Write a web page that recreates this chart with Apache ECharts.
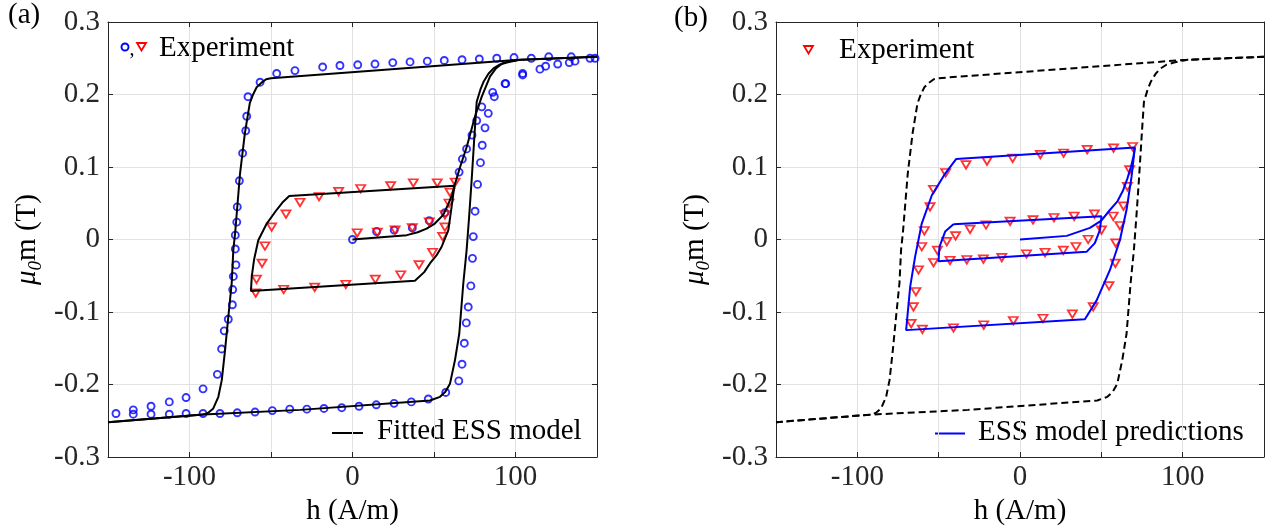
<!DOCTYPE html>
<html><head><meta charset="utf-8">
<script src="https://cdn.jsdelivr.net/npm/echarts@6/dist/echarts.min.js"></script>
<style>html,body{margin:0;padding:0;background:#fff}#c{width:1273px;height:531px}</style>
</head><body><div id="c"></div>
<script>
// ---------- tick labels ----------
const xLabelValues = [-100, 0, 100];
const yTickValues = [-0.3, -0.2, -0.1, 0, 0.1, 0.2, 0.3];

// ---------- panel (a) experiment: blue circles (major loop) ----------
const aExpCircles = [
  [0,0],[14.8,0.011],[25.6,0.013],[36.7,0.016],[47.1,0.026],[56.7,0.037],
  [65.4,0.093],[67.4,0.111],[70.0,0.125],[73.3,0.144],[76.2,0.164],[79.3,0.183],
  [86.0,0.203],[93.6,0.215],[104.4,0.229],[118.5,0.239],[136.5,0.246],[148.8,0.250],
  [134.2,0.252],[120.4,0.252],[109.7,0.250],[99.1,0.251],[88.5,0.250],[77.8,0.249],
  [67.2,0.248],[56.3,0.247],[45.9,0.246],[35.3,0.245],[24.7,0.244],[13.8,0.242],
  [3.2,0.241],[-7.7,0.240],[-18.3,0.238],[-35.3,0.233],[-46.5,0.229],
  [-56.7,0.217],[-64.1,0.197],[-64.9,0.170],[-65.5,0.150],[-67.4,0.119],[-69.4,0.081],
  [-70.7,0.045],[-71.0,0.024],[-71.9,0.006],[-71.9,-0.013],[-71.5,-0.035],[-73.1,-0.051],
  [-73.5,-0.069],[-73.7,-0.090],[-76.2,-0.110],[-78.7,-0.126],[-80.3,-0.151],[-82.9,-0.186],
  [-91.7,-0.206],[-102.1,-0.218],[-112.4,-0.224],[-123.6,-0.230],[-134.5,-0.235],[-145.1,-0.240],
  [-134.5,-0.241],[-123.6,-0.241],[-112.4,-0.241],[-102.1,-0.240],[-91.7,-0.240],[-81.3,-0.240],
  [-70.7,-0.239],[-59.8,-0.238],[-49.2,-0.236],[-38.5,-0.234],[-28.0,-0.234],[-17.5,-0.233],
  [-6.6,-0.232],[4.0,-0.230],[14.6,-0.228],[25.5,-0.226],[36.1,-0.224],[46.5,-0.220],
  [57.2,-0.211],[65.2,-0.195],[67.2,-0.172],[68.6,-0.143],[69.8,-0.115],[71.0,-0.093],
  [72.6,-0.064],[73.6,-0.026],[74.1,0.004],[75.2,0.039],[76.7,0.076],[78.5,0.106],
  [79.6,0.130],[81.3,0.154],[83.3,0.174],[87.0,0.197],[94.0,0.215],[104.4,0.227],
  [115.0,0.235],[125.9,0.242],[133.0,0.244],[145.7,0.250]
];

// ---------- panel (a) experiment: red triangles (minor loop) ----------
const aExpTriangles = [
  [2.9,0.009],[15.2,0.010],[26.1,0.013],[36.7,0.016],[47.1,0.024],[56.7,0.034],
  [63.0,0.079],[52.0,0.078],[37.3,0.078],[23.4,0.074],[5.0,0.070],[-8.5,0.066],
  [-20.5,0.059],[-32.2,0.051],[-40.8,0.035],[-49.6,0.017],[-53.7,-0.009],[-55.5,-0.033],
  [-58.9,-0.055],[-59.4,-0.074],[-42.2,-0.069],[-23.2,-0.066],[-4.1,-0.062],[14.0,-0.055],
  [29.6,-0.049],[40.8,-0.035],[49.1,-0.018],[55.3,0.004],[56.7,0.017],[59.2,0.050],[59.8,0.065]
];

// ---------- fitted ESS model: major loop (used in (a) solid and (b) dashed) ----------
const modelMajorDesc = [
  [150,0.252],[100,0.2475],[-50,0.2225],[-53,0.221],[-56,0.216],[-58.8,0.210],[-61,0.200],
  [-63,0.188],[-66,0.147],[-69,0.091],[-72,0.009],[-73.1,-0.014],[-74.1,-0.060],[-76.2,-0.107],
  [-78.2,-0.153],[-80.2,-0.194],[-82.3,-0.217],[-85.4,-0.233],[-88.5,-0.239],[-91.5,-0.2415],[-150,-0.252]
];
const modelMajorAsc = [
  [-150,-0.252],[-91.5,-0.2415],[-32,-0.235],[47.5,-0.222],[53.7,-0.217],[57,-0.210],[59.8,-0.199],
  [62.9,-0.166],[65.5,-0.130],[68,-0.060],[70,-0.015],[71.5,0.030],[73.1,0.082],[75,0.150],
  [76.2,0.190],[78.5,0.207],[80.5,0.218],[83.5,0.229],[86.5,0.236],[90,0.241],[94.6,0.244],
  [102.8,0.248],[150,0.252]
];
// (a) model initial curve and minor loop
const aModelInit = [
  [0,0],[33.3,0.006],[40,0.010],[45.5,0.015],[50.5,0.022],[55.7,0.034],[59,0.050],[61.2,0.062],
  [62.5,0.074],[64,0.085],[66,0.100],[70.1,0.128],[75.2,0.170],[79.3,0.197],[84.4,0.225],
  [88,0.236],[92,0.243],[98.7,0.2475]
];
const aModelMinor = [
  [62.5,0.074],[-38.8,0.060],[-43,0.051],[-46.5,0.041],[-52.6,0.022],[-57.8,-0.001],[-60.4,-0.028],
  [-61.8,-0.051],[-62.3,-0.071],[38.3,-0.057],[44,-0.045],[47.5,-0.033],[51.5,-0.022],[54.7,-0.010],
  [58.8,0.013],[60.8,0.045],[62.5,0.074]
];

// ---------- panel (b) experiment: red triangles ----------
const bExpTriangles = [
  [69.2,0.128],[57.5,0.126],[41.3,0.124],[26.8,0.119],[12.5,0.117],[-4.5,0.112],[-20.3,0.108],
  [-33.2,0.103],[-45.7,0.092],[-53.2,0.069],[-55.3,0.045],[-58.8,0.012],[-60.4,-0.010],[-62.4,-0.042],
  [-64.0,-0.072],[-65.5,-0.093],[-66.9,-0.116],[-60.0,-0.124],[-40.9,-0.122],[-22.3,-0.118],
  [-4.1,-0.112],[14.1,-0.109],[32.2,-0.103],[45.0,-0.093],[54.7,-0.064],[58.6,-0.033],[58.9,-0.005],
  [61.4,0.019],[63.6,0.046],[66.0,0.073],[67.4,0.096],
  [57.3,0.032],[50.1,0.013],[41.9,0.000],[34.4,-0.010],[26.6,-0.015],[15.4,-0.018],[4.0,-0.020],
  [-11.2,-0.025],[-22.5,-0.027],[-32.7,-0.028],[-43.0,-0.029],[-53.2,-0.032],[-50.8,-0.015],
  [-45.0,-0.003],[-39.6,0.005],[-30.7,0.014],[-20.9,0.020],[-6.1,0.025],[8.0,0.027],[20.9,0.030],
  [33.3,0.032],[45.8,0.035]
];

// ---------- panel (b) ESS model predictions ----------
const bModelInit = [
  [0,0],[28.7,0.005],[43,0.016],[50,0.026],[55,0.040],[60,0.053],[63.4,0.068],[66,0.084],
  [68.3,0.101],[69.8,0.115],[70.6,0.127]
];
const bModelBig = [
  [70.6,0.127],[-39.3,0.111],[-46,0.091],[-54.2,0.061],[-60.4,0.022],[-64.5,-0.024],[-67.5,-0.065],
  [-70,-0.125],[39.9,-0.110],[47.1,-0.084],[55.3,-0.042],[61.4,-0.001],[65.5,0.041],[68.6,0.087],[70.6,0.127]
];
const bModelInner = [
  [-40.9,0.021],[50.1,0.032],[49.1,0.013],[46,-0.005],[40.9,-0.017],[-50.1,-0.030],
  [-49.5,-0.010],[-46,0.011],[-40.9,0.021]
];

// ---------- chart ----------
const FONT = '"Liberation Serif", "Times New Roman", serif';
const FS = 29;
const AX = '#262626';
const chart = echarts.init(document.getElementById('c'), null, {renderer: 'canvas'});

function xAxes(g) {
  return [
    {gridIndex: g, type: 'value', min: -150, max: 150, interval: 50, position: 'bottom',
     axisLine: {onZero: false, lineStyle: {color: AX, width: 1}},
     axisTick: {inside: true, length: 5, lineStyle: {color: AX}},
     axisLabel: {margin: 6, color: AX, fontSize: FS, fontFamily: FONT,
       formatter: v => xLabelValues.indexOf(Math.round(v)) >= 0 ? String(Math.round(v)) : ''},
     splitLine: {show: true, lineStyle: {color: '#e2e2e2', width: 1}},
     name: 'h (A/m)', nameLocation: 'middle', nameGap: 29,
     nameTextStyle: {fontSize: FS, fontFamily: FONT, color: '#000'}},
    {gridIndex: g, type: 'value', min: -150, max: 150, interval: 50, position: 'top',
     axisLine: {onZero: false, lineStyle: {color: AX, width: 1}},
     axisTick: {inside: true, length: 5, lineStyle: {color: AX}},
     axisLabel: {show: false}, splitLine: {show: false}}
  ];
}
function yAxes(g) {
  return [
    {gridIndex: g, type: 'value', min: -0.3, max: 0.3, interval: 0.1, position: 'left',
     axisLine: {onZero: false, lineStyle: {color: AX, width: 1}},
     axisTick: {inside: true, length: 5, lineStyle: {color: AX}},
     axisLabel: {margin: 8, color: AX, fontSize: FS, fontFamily: FONT,
       formatter: v => Math.abs(v) < 1e-9 ? '0' : v.toFixed(1)},
     splitLine: {show: true, lineStyle: {color: '#e2e2e2', width: 1}},
     name: '{i|μ}{s|0}{r|m (T)}', nameLocation: 'middle', nameGap: 63,
     nameTextStyle: {fontSize: FS, fontFamily: FONT, color: '#000',
       rich: {
         i: {fontSize: FS, fontFamily: FONT, fontStyle: 'italic', color: '#000', lineHeight: 35, verticalAlign: 'middle'},
         s: {fontSize: 19, fontFamily: FONT, fontStyle: 'italic', color: '#000', lineHeight: 19, verticalAlign: 'bottom'},
         r: {fontSize: FS, fontFamily: FONT, color: '#000', lineHeight: 35, verticalAlign: 'middle'}
       }}},
    {gridIndex: g, type: 'value', min: -0.3, max: 0.3, interval: 0.1, position: 'right',
     axisLine: {onZero: false, lineStyle: {color: AX, width: 1}},
     axisTick: {inside: true, length: 5, lineStyle: {color: AX}},
     axisLabel: {show: false}, splitLine: {show: false}}
  ];
}

function lineS(data, xi, yi, color, dashed) {
  return {type: 'line', data: data, xAxisIndex: xi, yAxisIndex: yi, showSymbol: false, symbol: 'none',
    smooth: false, z: 5, silent: true,
    lineStyle: {color: color, width: 2, type: dashed ? [7, 4] : 'solid'}};
}
function circS(data, xi, yi) {
  return {type: 'scatter', data: data, xAxisIndex: xi, yAxisIndex: yi, symbol: 'circle', symbolSize: 7, z: 3,
    itemStyle: {color: 'rgba(0,0,0,0)', borderColor: '#0000ff', borderWidth: 1.9}};
}
function triS(data, xi, yi) {
  return {type: 'scatter', data: data, xAxisIndex: xi, yAxisIndex: yi, symbol: 'triangle', symbolRotate: 180,
    symbolSize: [9, 7.5], z: 3,
    itemStyle: {color: 'rgba(0,0,0,0)', borderColor: '#ff0000', borderWidth: 1.8}};
}

const txt = (x, y, s) => ({type: 'text', x: x, y: y, silent: true,
  style: {text: s, font: FS + 'px ' + FONT, fill: '#000', align: 'left', verticalAlign: 'middle'}});

const option = {
  animation: false,
  backgroundColor: '#fff',
  grid: [
    {left: 108, top: 22, width: 489, height: 435, containLabel: false},
    {left: 776, top: 22, width: 488, height: 435, containLabel: false}
  ],
  xAxis: [...xAxes(0), ...xAxes(1)],
  yAxis: [...yAxes(0), ...yAxes(1)],
  series: [
    circS(aExpCircles, 0, 0),
    triS(aExpTriangles, 0, 0),
    lineS(modelMajorDesc, 0, 0, '#000', false),
    lineS(modelMajorAsc, 0, 0, '#000', false),
    lineS(aModelInit, 0, 0, '#000', false),
    lineS(aModelMinor, 0, 0, '#000', false),
    triS(bExpTriangles, 2, 2),
    lineS(modelMajorDesc, 2, 2, '#000', true),
    lineS(modelMajorAsc, 2, 2, '#000', true),
    lineS(bModelInit, 2, 2, '#0000ff', false),
    lineS(bModelBig, 2, 2, '#0000ff', false),
    lineS(bModelInner, 2, 2, '#0000ff', false)
  ],
  graphic: [
    txt(8, 15, '(a)'),
    txt(674, 18, '(b)'),
    // legend (a) top
    {type: 'circle', shape: {cx: 125, cy: 47, r: 3.5}, style: {fill: 'none', stroke: '#0000ff', lineWidth: 1.9}},
    {type: 'text', x: 129.5, y: 50, style: {text: ',', font: '20px ' + FONT, fill: '#000', align: 'left', verticalAlign: 'middle'}},
    {type: 'polygon', shape: {points: [[137, 43], [146, 43], [141.5, 50.5]]}, style: {fill: 'none', stroke: '#ff0000', lineWidth: 1.8}},
    txt(159, 48, 'Experiment'),
    // legend (a) bottom
    {type: 'line', shape: {x1: 332, y1: 433, x2: 363, y2: 433}, style: {stroke: '#000', lineWidth: 2}},
    txt(377, 431, 'Fitted ESS model'),
    // legend (b) top
    {type: 'polygon', shape: {points: [[804, 46], [813, 46], [808.5, 53.5]]}, style: {fill: 'none', stroke: '#ff0000', lineWidth: 1.8}},
    txt(839, 50, 'Experiment'),
    // legend (b) bottom
    {type: 'line', shape: {x1: 935, y1: 433.5, x2: 965, y2: 433.5}, style: {stroke: '#0000ff', lineWidth: 2}},
    txt(978, 432, 'ESS model predictions')
  ]
};
chart.setOption(option);
</script>
</body></html>
